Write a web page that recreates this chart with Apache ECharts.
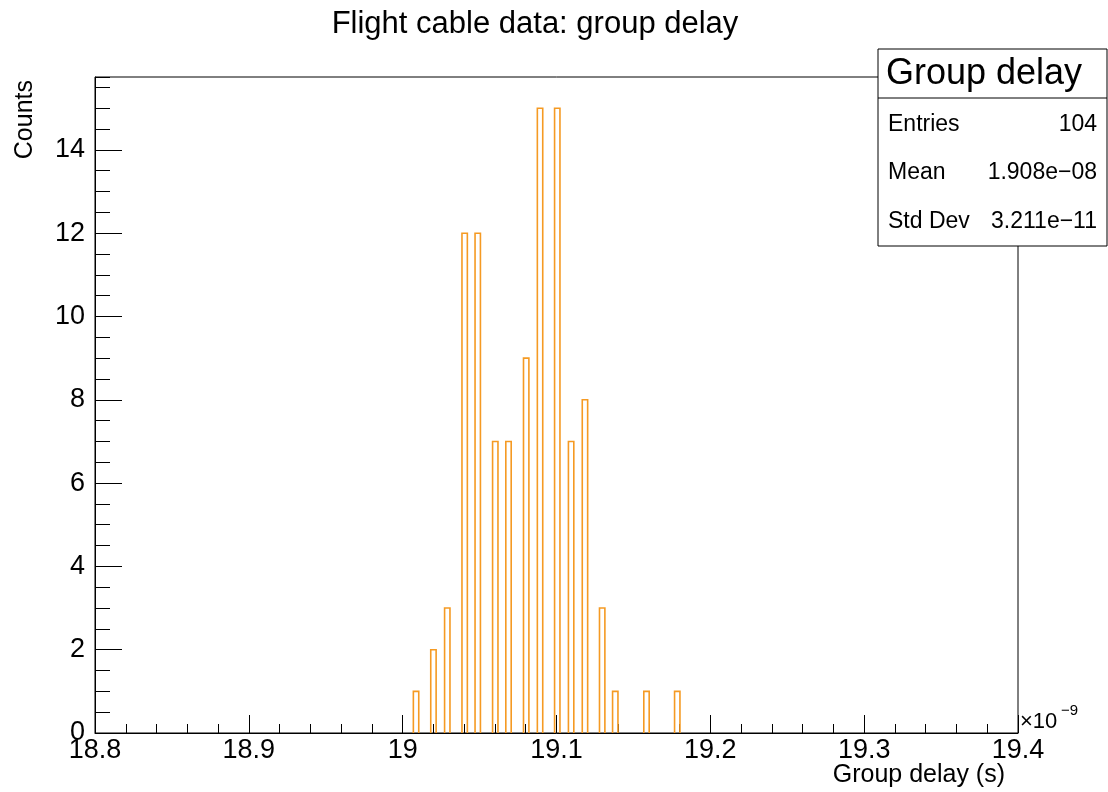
<!DOCTYPE html>
<html>
<head>
<meta charset="utf-8">
<script src="https://cdn.jsdelivr.net/npm/echarts@6/dist/echarts.min.js"></script>
<style>html,body{margin:0;padding:0;background:#fff}#c{width:1108px;height:792px}</style>
</head>
<body>
<div id="c"></div>
<script>
// ---- data ----
const binCenters = [19.0087, 19.0200, 19.0290, 19.0403, 19.0488, 19.0602, 19.0688, 19.0803, 19.0893, 19.1005, 19.1095, 19.1185, 19.1297, 19.1382, 19.1585, 19.1785];
const counts     = [1, 2, 3, 12, 12, 7, 7, 9, 15, 15, 7, 8, 3, 1, 1, 1];
const binWidth = 0.0035;
const xTickLabels = ['18.8', '18.9', '19', '19.1', '19.2', '19.3', '19.4'];
const statsLabels = ['Entries', 'Mean', 'Std Dev'];
const statsValues = ['104', '1.908e\u221208', '3.211e\u221211'];

const FONT = '"Liberation Sans", Arial, Helvetica, sans-serif';
const chart = echarts.init(document.getElementById('c'), null, {renderer: 'canvas'});

const gridL = 95, gridR = 1018, gridT = 77, gridB = 733;

const stats = [];
const boxL = 878, boxT = 49, boxR = 1107, boxB = 246, sepY = 98;
stats.push({type: 'rect', shape: {x: boxL, y: boxT, width: boxR - boxL, height: boxB - boxT}, style: {fill: '#fff', stroke: '#000', lineWidth: 1}, z: 100});
stats.push({type: 'line', shape: {x1: boxL, y1: sepY, x2: boxR, y2: sepY}, style: {stroke: '#000', lineWidth: 1}, z: 101});
stats.push({type: 'text', x: 886, y: (boxT + sepY) / 2 + 1, style: {text: 'Group delay', font: '36px ' + FONT, fill: '#000', textAlign: 'left', textVerticalAlign: 'middle'}, z: 102});
const rowY = [125, 173, 222];
statsLabels.forEach((l, i) => {
  stats.push({type: 'text', x: 888, y: rowY[i], style: {text: l, font: '23px ' + FONT, fill: '#000', textAlign: 'left', textVerticalAlign: 'middle'}, z: 102});
  stats.push({type: 'text', x: 1097, y: rowY[i], style: {text: statsValues[i], font: '23px ' + FONT, fill: '#000', textAlign: 'right', textVerticalAlign: 'middle'}, z: 102});
});

const option = {
  backgroundColor: '#fff',
  animation: false,
  grid: {left: gridL, right: 1108 - gridR, top: gridT, bottom: 792 - gridB, show: true, borderColor: '#000', borderWidth: 1, containLabel: false, outerBoundsMode: 'none'},
  xAxis: {
    type: 'value', min: 18.8, max: 19.4, interval: 0.1,
    axisLine: {show: true, onZero: false, lineStyle: {color: '#000', width: 1}},
    axisTick: {show: true, inside: true, length: 18, lineStyle: {color: '#000', width: 1}},
    minorTick: {show: true, splitNumber: 5, length: 9, lineStyle: {color: '#000', width: 1}},
    splitLine: {show: false},
    axisLabel: {fontFamily: FONT, fontSize: 27, color: '#000', margin: 4,
      formatter: v => { const i = Math.round((v - 18.8) / 0.1); return xTickLabels[i] !== undefined ? xTickLabels[i] : ''; }}
  },
  yAxis: [{
    type: 'value', min: 0, max: 15.75, interval: 2, position: 'left',
    axisLine: {show: true, onZero: false, lineStyle: {color: '#000', width: 1}},
    axisTick: {show: true, inside: true, length: 27, lineStyle: {color: '#000', width: 1}},
    splitLine: {show: false},
    axisLabel: {fontFamily: FONT, fontSize: 27, color: '#000', margin: 10, showMaxLabel: false,
      formatter: v => (Math.abs(v - Math.round(v)) < 1e-6 ? String(Math.round(v)) : '')}
  }, {
    type: 'value', min: 0, max: 15.75, interval: 0.5, position: 'left', offset: 0,
    axisLine: {show: false},
    axisTick: {show: true, inside: true, length: 15, lineStyle: {color: '#000', width: 1}},
    splitLine: {show: false},
    axisLabel: {show: false}
  }],
  series: [{
    type: 'custom',
    xAxisIndex: 0, yAxisIndex: 0,
    data: binCenters.map((c, i) => [c, counts[i]]),
    renderItem: (params, api) => {
      const c = api.value(0), n = api.value(1);
      const p0 = api.coord([c - binWidth / 2, 0]);
      const p1 = api.coord([c + binWidth / 2, n]);
      return {
        type: 'polyline',
        shape: {points: [[p0[0], p0[1]], [p0[0], p1[1]], [p1[0], p1[1]], [p1[0], p0[1]]]},
        style: {stroke: '#f59a23', lineWidth: 1.6, fill: null}
      };
    },
    z: 3
  }],
  graphic: [
    {type: 'text', x: 535, y: 24, style: {text: 'Flight cable data: group delay', font: '31px ' + FONT, fill: '#000', textAlign: 'center', textVerticalAlign: 'middle'}},
    {type: 'text', x: 1005, y: 775, style: {text: 'Group delay (s)', font: '25px ' + FONT, fill: '#000', textAlign: 'right', textVerticalAlign: 'middle'}},
    {type: 'text', x: 25, y: 80, rotation: Math.PI / 2, style: {text: 'Counts', font: '25px ' + FONT, fill: '#000', textAlign: 'right', textVerticalAlign: 'middle'}},
    {type: 'text', x: 1020, y: 722, style: {text: '\u00d710', font: '22px ' + FONT, fill: '#000', textAlign: 'left', textVerticalAlign: 'middle'}},
    {type: 'text', x: 1061, y: 711, style: {text: '\u22129', font: '15px ' + FONT, fill: '#000', textAlign: 'left', textVerticalAlign: 'middle'}},
    ...stats
  ]
};
chart.setOption(option);
</script>
</body>
</html>
